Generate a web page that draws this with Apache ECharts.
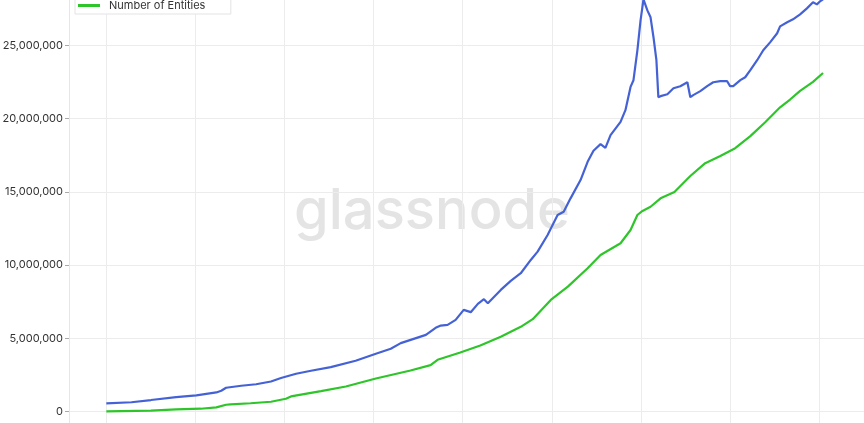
<!DOCTYPE html>
<html>
<head>
<meta charset="utf-8">
<script src="https://cdn.jsdelivr.net/npm/echarts@6/dist/echarts.min.js"></script>
<style>html,body{margin:0;padding:0;background:#fff}#c{width:864px;height:423px}</style>
</head>
<body>
<div id="c"></div>
<script>
// Series names
const seriesNames = ['Number of Addresses', 'Number of Entities'];

// Blue series: Number of Addresses
const addrDates = ['2012-01-01','2012-04-13','2012-07-02','2012-10-13','2013-01-04','2013-03-27','2013-04-16','2013-05-06','2013-07-07','2013-09-06','2013-11-06','2013-12-17','2014-02-17','2014-04-19','2014-07-09','2014-10-19','2015-01-10','2015-03-12','2015-04-22','2015-08-03','2015-09-12','2015-10-03','2015-10-31','2015-12-03','2016-01-05','2016-02-03','2016-03-03','2016-03-28','2016-04-13','2016-06-05','2016-07-16','2016-08-26','2016-10-06','2016-11-03','2016-12-14','2017-01-24','2017-02-18','2017-03-18','2017-04-28','2017-05-27','2017-06-20','2017-07-19','2017-08-08','2017-08-29','2017-10-09','2017-10-29','2017-11-19','2017-12-01','2017-12-17','2017-12-30','2018-01-11','2018-01-27','2018-02-09','2018-02-21','2018-03-05','2018-03-13','2018-03-22','2018-04-19','2018-05-14','2018-06-11','2018-07-10','2018-07-14','2018-07-22','2018-08-03','2018-09-01','2018-09-29','2018-10-24','2018-11-22','2018-12-20','2019-01-01','2019-01-14','2019-02-12','2019-03-04','2019-03-25','2019-04-22','2019-05-17','2019-06-14','2019-07-13','2019-07-25','2019-08-23','2019-09-16','2019-10-15','2019-11-12','2019-12-07','2019-12-23','2020-01-05','2020-01-17'];
const addrValues = [565000,647000,797000,1001000,1110000,1315000,1430000,1635000,1771000,1873000,2064000,2296000,2589000,2793000,3045000,3474000,3951000,4292000,4680000,5245000,5722000,5879000,5926000,6267000,6948000,6792000,7357000,7677000,7405000,8311000,8924000,9448000,10354000,10920000,12057000,13420000,13644000,14557000,15804000,17050000,17800000,18256000,18004000,18869000,19775000,20572000,22160000,22616000,24660000,26700000,28130000,27380000,26910000,25550000,23980000,21460000,21530000,21660000,22070000,22210000,22480000,22550000,21460000,21600000,21870000,22210000,22480000,22550000,22550000,22210000,22210000,22620000,22820000,23300000,23980000,24660000,25200000,25820000,26290000,26570000,26770000,27110000,27520000,27930000,27790000,28000000,28130000];

// Green series: Number of Entities
const entDates = ['2012-01-01','2012-07-02','2012-10-13','2013-01-22','2013-03-27','2013-05-06','2013-05-24','2013-08-14','2013-11-06','2014-01-06','2014-01-27','2014-05-30','2014-09-09','2015-01-10','2015-06-01','2015-08-22','2015-09-20','2015-12-22','2016-03-13','2016-06-05','2016-08-26','2016-10-14','2016-12-27','2017-03-07','2017-05-27','2017-07-19','2017-10-09','2017-11-19','2017-12-17','2018-01-07','2018-02-09','2018-03-22','2018-05-18','2018-07-22','2018-09-21','2018-11-22','2019-01-22','2019-03-25','2019-05-25','2019-07-25','2019-09-04','2019-10-15','2019-12-07','2020-01-17'];
const entValues = [20000,68000,157000,204000,293000,477000,497000,579000,681000,886000,1042000,1410000,1723000,2268000,2813000,3181000,3542000,4039000,4516000,5109000,5790000,6315000,7629000,8535000,9789000,10695000,11492000,12398000,13420000,13700000,13985000,14557000,14990000,16080000,16960000,17440000,17980000,18800000,19750000,20770000,21300000,21890000,22500000,23110000];

// Axis settings (values)
const yTicks = [-5000000, 0, 5000000, 10000000, 15000000, 20000000, 25000000, 30000000];
const xRange = ['2011-08-01', '2020-07-03'];

const zip = (d, v) => d.map((x, i) => [x, v[i]]);
const YEAR = 365.25 * 24 * 3600 * 1000;

const chart = echarts.init(document.getElementById('c'), null, {renderer: 'canvas'});
chart.setOption({
  animation: false,
  backgroundColor: '#ffffff',
  textStyle: {fontFamily: 'Inter'},
  graphic: [{
    type: 'text', x: 432, y: 212, z: -10, silent: true,
    style: {text: 'glassnode', fill: '#e4e4e4', font: '500 56px Inter', align: 'center', verticalAlign: 'middle'}
  }],
  legend: {
    orient: 'vertical', left: 75, top: -22, padding: [3, 8, 3, 3], itemGap: 8,
    itemWidth: 22, itemHeight: 3, icon: 'rect',
    borderColor: '#e3e3e3', borderWidth: 1, backgroundColor: '#fff',
    textStyle: {fontSize: 11, color: '#333', fontFamily: 'Inter', padding: [0, 0, 0, 4]},
    data: seriesNames
  },
  grid: {left: 69, right: 0, top: -28, bottom: -62, containLabel: false, outerBoundsMode: 'none'},
  xAxis: {
    type: 'time', min: xRange[0], max: xRange[1],
    minInterval: YEAR, maxInterval: YEAR,
    axisLine: {show: false}, axisTick: {show: false}, axisLabel: {show: false},
    splitLine: {show: true, lineStyle: {color: '#ececec', width: 1}}
  },
  yAxis: {
    type: 'value', min: yTicks[0], max: yTicks[yTicks.length - 1], interval: yTicks[2] - yTicks[1],
    axisLine: {show: true, lineStyle: {color: '#e6e6e6'}},
    axisTick: {show: true, length: 4, lineStyle: {color: '#aaa'}},
    axisLabel: {color: '#333', fontSize: 11, fontFamily: 'Inter', margin: 6,
      formatter: v => v.toLocaleString('en-US')},
    splitLine: {show: true, lineStyle: {color: '#ececec', width: 1}}
  },
  series: [
    {name: seriesNames[0], type: 'line', data: zip(addrDates, addrValues), showSymbol: false,
     lineStyle: {color: '#4462d6', width: 2.2}, itemStyle: {color: '#4462d6'}, z: 3},
    {name: seriesNames[1], type: 'line', data: zip(entDates, entValues), showSymbol: false,
     lineStyle: {color: '#2ec52a', width: 2.2}, itemStyle: {color: '#2ec52a'}, z: 3}
  ]
});
</script>
</body>
</html>
